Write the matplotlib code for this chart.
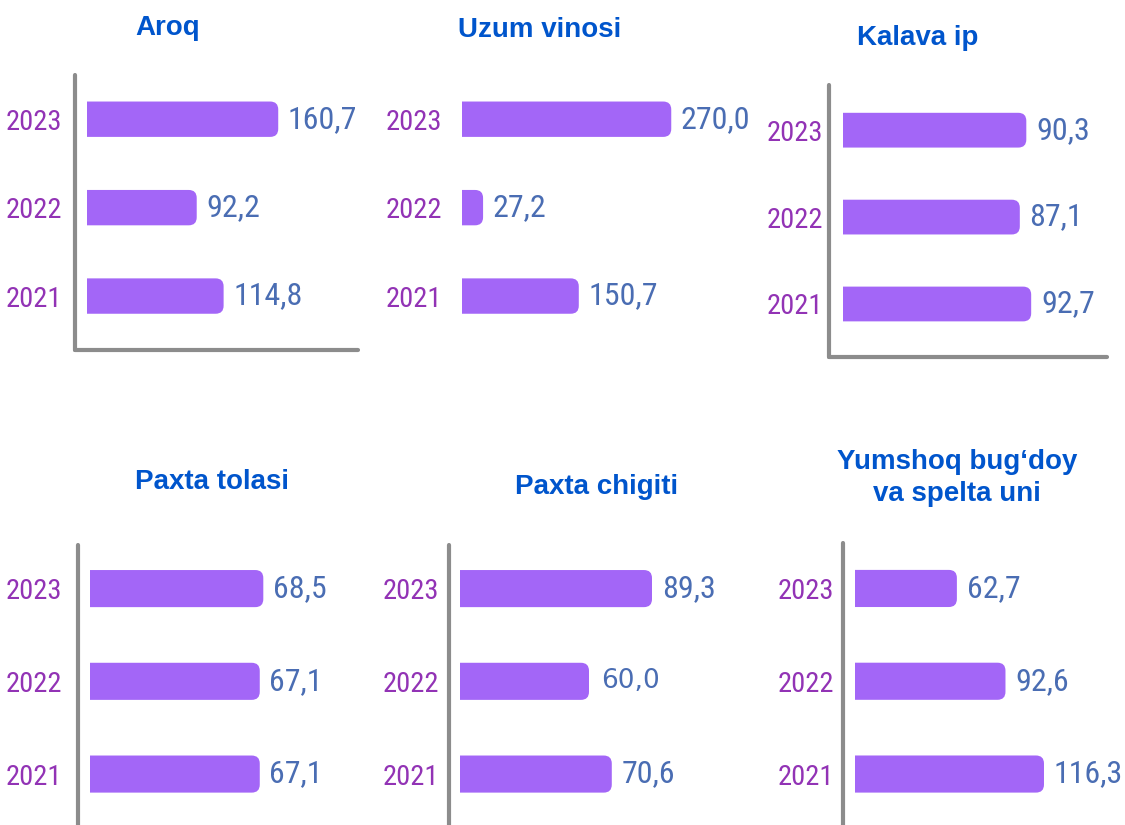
import matplotlib
matplotlib.use("Agg")
import matplotlib.pyplot as plt
from matplotlib import font_manager
from matplotlib.patches import FancyBboxPatch, Rectangle

# ---------- data ----------
years = ["2021", "2022", "2023"]
titles = ["Aroq", "Uzum vinosi", "Kalava ip",
          "Paxta tolasi", "Paxta chigiti", "Yumshoq bug\u2018doy\nva spelta uni"]
aroq = [114.8, 92.2, 160.7]
uzum_vinosi = [150.7, 27.2, 270.0]
kalava_ip = [92.7, 87.1, 90.3]
paxta_tolasi = [67.1, 67.1, 68.5]
paxta_chigiti = [70.6, 60.0, 89.3]
bugdoy_uni = [116.3, 92.6, 62.7]
series = [aroq, uzum_vinosi, kalava_ip, paxta_tolasi, paxta_chigiti, bugdoy_uni]

# ---------- styles ----------
BAR = "#A366F7"
YEAR_C = "#9233B5"
VAL_C = "#4A6DB3"
TITLE_C = "#0055CC"
SPINE_C = "#8C8C8C"
BOLD = ["Liberation Sans", "DejaVu Sans"]

# narrow font if there is one, else plain Liberation Sans a bit smaller
names = {f.name for f in font_manager.fontManager.ttflist}
prefer = ["Liberation Sans Narrow", "Arial Narrow", "Roboto Condensed", "DejaVu Sans Condensed"]
found = [n for n in prefer if n in names]
if not found:
    found = sorted(n for n in names if "Narrow" in n or "Condensed" in n)
if found:
    NARROW = [found[0], "DejaVu Sans"]
    YEAR_FS, VAL_FS = 20.5, 23
else:
    NARROW = ["Liberation Sans", "DejaVu Sans"]
    YEAR_FS, VAL_FS = 17.5, 19

W, H = 1125, 825
fig = plt.figure(figsize=(W / 100, H / 100), dpi=100)

# layout per panel (pixels): left, top, right, bottom, bar gap, px per unit, ylim, spines, tick pad px, title xy
layout = [
    dict(box=(75, 75, 358, 350), gap=12, scale=1.19, ylim=(-0.61, 2.5), spines=("left", "bottom"), pad=13, title=(168, 28)),
    dict(box=(450, 75, 760, 350), gap=12, scale=0.775, ylim=(-0.61, 2.5), spines=(), pad=8, title=(540, 30)),
    dict(box=(829, 85, 1107, 357), gap=14, scale=2.03, ylim=(-0.61, 2.52), spines=("left", "bottom"), pad=6, title=(918, 38)),
    dict(box=(78, 545, 370, 826), gap=12, scale=2.53, ylim=(-0.56, 2.47), spines=("left",), pad=16, title=(212, 482)),
    dict(box=(449, 545, 740, 826), gap=11, scale=2.15, ylim=(-0.56, 2.47), spines=("left",), pad=10, title=(597, 487)),
    dict(box=(843, 543, 1120, 826), gap=12, scale=1.625, ylim=(-0.56, 2.49), spines=("left",), pad=9, title=(957, 478)),
]

bar_h = 0.4
r_px = 8

for title, vals, lay in zip(titles, series, layout):
    L, T, R, B = lay["box"]
    ax = fig.add_axes([L / W, 1 - B / H, (R - L) / W, (B - T) / H])
    s = lay["scale"]
    ax.set_xlim(-lay["gap"] / s, (R - L - lay["gap"]) / s)
    ax.set_ylim(*lay["ylim"])
    sy = (B - T) / (lay["ylim"][1] - lay["ylim"][0])
    rx = r_px / s

    # clip at x=0 so only the right end stays rounded
    clip = Rectangle((0, lay["ylim"][0]), 1e4, 10, transform=ax.transData)
    for i, v in enumerate(vals):
        rnd = FancyBboxPatch((-rx, i - bar_h / 2), v + rx, bar_h,
                             boxstyle=f"round,pad=0,rounding_size={rx}",
                             mutation_aspect=s / sy, fc=BAR, ec="none")
        ax.add_patch(rnd)
        rnd.set_clip_path(clip)
        label = f"{v:.1f}".replace(".", ",")
        if title == "Paxta chigiti" and years[i] == "2022":
            ax.annotate(label, (v, i), xytext=(9, 0), textcoords="offset points",
                        va="center", ha="left", color=VAL_C, fontsize=19, family=["DejaVu Sans"])
        else:
            ax.annotate(label, (v, i), xytext=(7, 0), textcoords="offset points",
                        va="center", ha="left", color=VAL_C, fontsize=VAL_FS, family=NARROW)

    ax.set_yticks(range(len(years)))
    ax.set_yticklabels(years, color=YEAR_C, fontsize=YEAR_FS, family=NARROW)
    ax.tick_params(axis="y", length=0, pad=lay["pad"] * 0.72)
    ax.set_xticks([])
    for side in ["left", "right", "top", "bottom"]:
        sp = ax.spines[side]
        if side in lay["spines"]:
            sp.set_color(SPINE_C)
            sp.set_linewidth(3)
            sp.set_capstyle("round")
        else:
            sp.set_visible(False)
    ax.patch.set_alpha(0)

    tx, ty = lay["title"]
    fig.text(tx / W, 1 - ty / H, title, ha="center", va="center", color=TITLE_C,
             fontsize=20, fontweight="bold", family=BOLD, linespacing=1.3)

fig.savefig("out.png", dpi=100, facecolor="white")
